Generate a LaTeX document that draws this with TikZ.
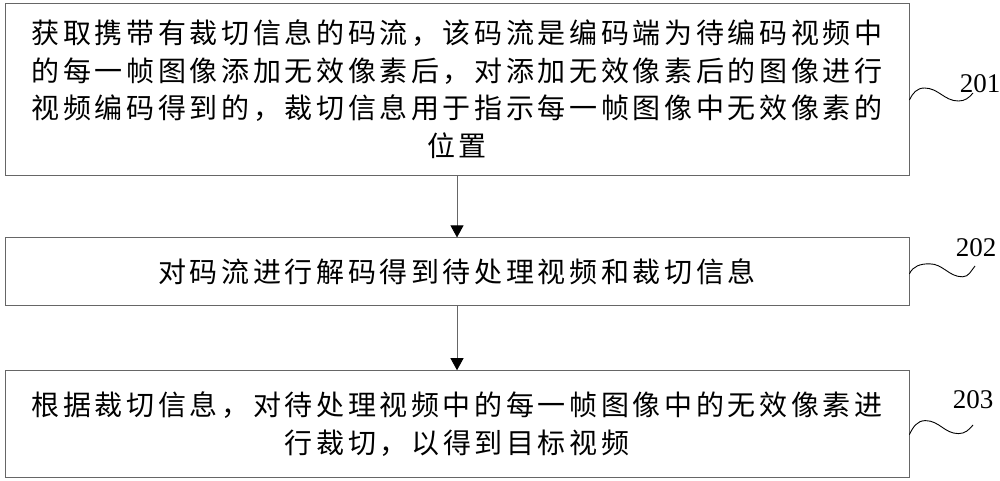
\documentclass[tikz,border=0pt]{standalone}
\usepackage{fontspec}
\setmainfont{Liberation Serif}
\newfontfamily\cjk{Noto Sans CJK SC}[LetterSpace=13]
\usetikzlibrary{positioning, arrows.meta}

\begin{document}
\begin{tikzpicture}[
   x=1pt, y=1pt,
   stepbox/.style = {draw=black!60, line width=0.8pt, inner sep=0pt,
      minimum width=904pt, align=center,
      font=\cjk\fontsize{28}{37.5}\selectfont},
   flow/.style = {draw=black!60, line width=0.8pt,
      -{Triangle[width=13pt, length=12pt, color=black]}},
   wave/.style = {line width=0.9pt},
   tag/.style = {inner sep=0pt, font=\fontsize{27}{27}\selectfont}]
   \useasboundingbox (0,0) rectangle (1000,-480);

   \node[stepbox, minimum height=172pt] (b1) at (457,-89)
      {获取携带有裁切信息的码流，该码流是编码端为待编码视频中\\
       的每一帧图像添加无效像素后，对添加无效像素后的图像进行\\
       视频编码得到的，裁切信息用于指示每一帧图像中无效像素的\\
       位置};
   \node[stepbox, minimum height=68pt, below=62pt of b1] (b2)
      {对码流进行解码得到待处理视频和裁切信息};
   \node[stepbox, minimum height=107pt, below=64pt of b2] (b3)
      {根据裁切信息，对待处理视频中的每一帧图像中的无效像素进\\
       行裁切，以得到目标视频};

   \draw[flow] (b1) -- (b2);
   \draw[flow] (b2) -- (b3);

   % step numbers
   \node[tag] (t1) at (980,-84) {201};
   \node[tag] (t2) at (976,-248) {202};
   \node[tag] (t3) at (973,-400) {203};

   \coordinate (w1s) at ([yshift=-11pt]b1.east);
   \coordinate (w1e) at (973,-93);
   \coordinate (w2s) at ([yshift=-2pt]b2.east);
   \coordinate (w2e) at (975,-266);
   \coordinate (w3s) at ([yshift=-10.5pt]b3.east);
   \coordinate (w3e) at (973,-425);

   \draw[wave] (w1s) to[out=65,in=180] ++(15,12) to[out=0,in=180] ++(34,-13) to[out=0,in=-130] (w1e);
   \draw[wave] (w2s) to[out=65,in=180] ++(20,10) to[out=0,in=180] ++(33,-13) to[out=0,in=-130] (w2e);
   \draw[wave] (w3s) to[out=65,in=180] ++(16,14) to[out=0,in=180] ++(33,-13) to[out=0,in=-130] (w3e);
\end{tikzpicture}
\end{document}
